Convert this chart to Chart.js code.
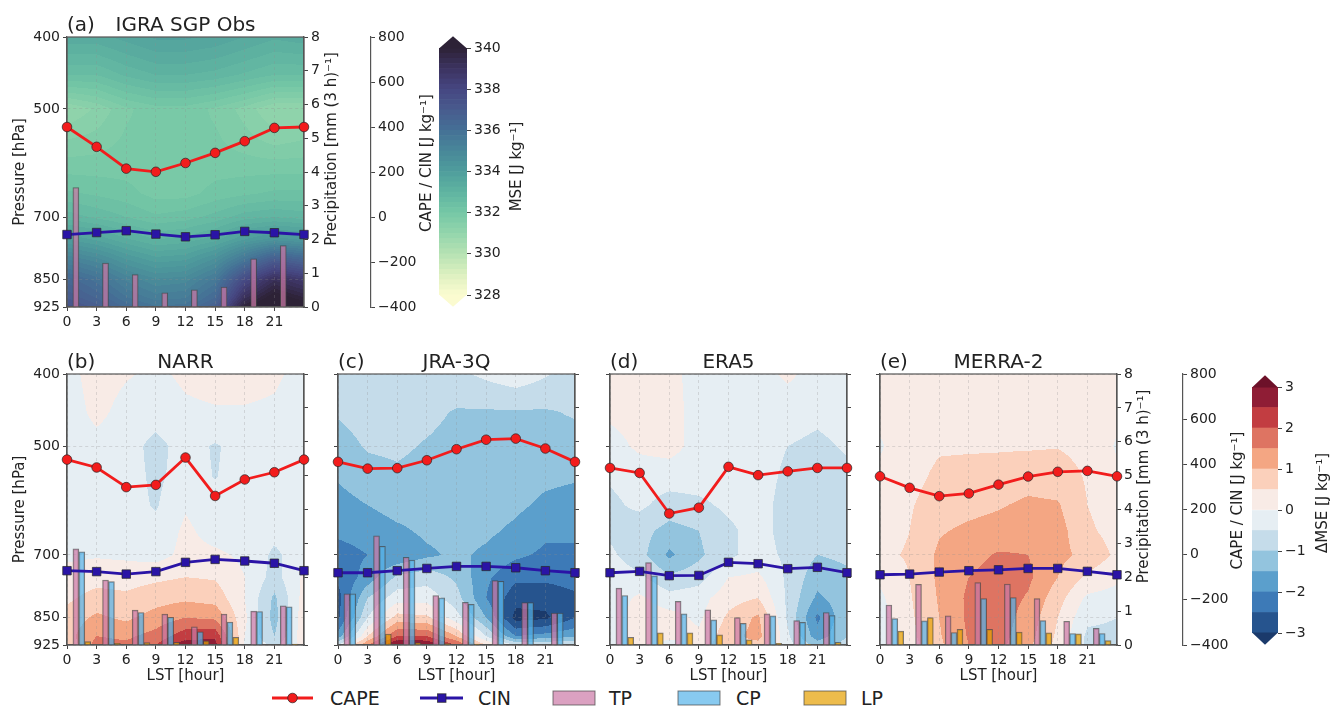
<!DOCTYPE html>
<html>
<head>
<meta charset="utf-8">
<title>Diurnal CAPE / CIN / MSE</title>
<script src="https://cdn.jsdelivr.net/npm/chart.js@4.4.1/dist/chart.umd.min.js"></script>
<style>
  body { margin: 0; background: #fff; }
  #figure { position: relative; width: 1333px; height: 709px; overflow: hidden; background: #fff; }
  #figure canvas { position: absolute; }
  #legend { position: absolute; left: 0; top: 684px; }
</style>
</head>
<body>
<div id="figure">
  <svg id="legend" width="1333" height="25"></svg>
</div>
<script>
// ---- Axes / categories ----
const hours = [0, 3, 6, 9, 12, 15, 18, 21, 24];
const precipHours = [1.5, 4.5, 7.5, 10.5, 13.5, 16.5, 19.5, 22.5];
const pressureLevels = [400, 450, 500, 550, 600, 650, 700, 750, 800, 850, 900, 925];
const hourTicks = [0, 3, 6, 9, 12, 15, 18, 21];
const pressureTicks = [400, 500, 700, 850, 925];
const precipTicks = [0, 1, 2, 3, 4, 5, 6, 7, 8];
const capeTicks = [-400, -200, 0, 200, 400, 600, 800];
const mseTicks = [328, 330, 332, 334, 336, 338, 340];
const dmseTicks = [-3, -2, -1, 0, 1, 2, 3];

// ---- (a) IGRA SGP Obs ----
const igraCape = [400, 312, 215, 201, 240, 285, 337, 396, 400];
const igraCin = [-78, -69, -61, -76, -88, -79, -64, -70, -78];
const igraTP = [3.54, 1.30, 0.96, 0.42, 0.51, 0.59, 1.43, 1.82];
const igraMse = [
  [333.4, 333.4, 333.6, 333.8, 333.8, 333.7, 333.5, 333.3, 333.4],
  [332.5, 332.5, 332.8, 333.0, 333.0, 332.9, 332.7, 332.5, 332.5],
  [331.0, 331.3, 331.7, 331.9, 331.9, 331.7, 331.4, 331.0, 331.0],
  [331.5, 331.6, 331.8, 331.8, 331.8, 331.8, 331.6, 331.4, 331.5],
  [331.9, 331.9, 331.9, 331.8, 331.8, 331.9, 331.9, 331.9, 331.9],
  [332.3, 332.2, 332.1, 331.9, 331.9, 332.1, 332.2, 332.3, 332.3],
  [332.9, 332.7, 332.5, 332.3, 332.4, 332.6, 332.9, 333.0, 332.9],
  [334.0, 333.7, 333.3, 333.0, 333.1, 333.4, 334.0, 334.4, 334.2],
  [335.3, 334.9, 334.3, 333.9, 334.0, 334.6, 335.8, 337.0, 336.5],
  [336.4, 335.9, 335.2, 334.8, 334.9, 335.6, 337.8, 339.2, 338.6],
  [337.0, 336.5, 335.8, 335.4, 335.5, 336.3, 339.2, 340.4, 339.8],
  [337.4, 336.9, 336.2, 335.8, 335.9, 336.8, 340.0, 341.0, 340.5]
];

// ---- (b) NARR ----
const narrCape = [421, 386, 299, 309, 430, 260, 333, 365, 421];
const narrCin = [-71, -75, -86, -75, -34, -21, -28, -38, -71];
const narrTP = [2.84, 1.92, 1.03, 0.91, 0.54, 0.91, 1.00, 1.16];
const narrCP = [2.75, 1.87, 0.96, 0.82, 0.39, 0.68, 0.99, 1.13];
const narrLP = [0.10, 0.05, 0.07, 0.08, 0.12, 0.23, 0.00, 0.03];
const narrDmse = [
  [-0.2, 0.25, 0.05, -0.1, 0.1, 0.2, 0.2, 0.1, -0.2],
  [-0.3, 0.15, -0.2, -0.3, -0.1, -0.05, -0.05, -0.1, -0.3],
  [-0.3, -0.2, -0.3, -0.65, -0.3, -0.55, -0.3, -0.3, -0.3],
  [-0.3, -0.3, -0.3, -0.6, -0.3, -0.52, -0.3, -0.3, -0.3],
  [-0.3, -0.3, -0.3, -0.55, -0.05, -0.3, -0.3, -0.3, -0.3],
  [-0.3, -0.3, -0.3, -0.35, 0.1, -0.2, -0.3, -0.35, -0.3],
  [-0.1, -0.05, -0.1, -0.2, 0.15, 0.1, -0.1, -0.6, -0.2],
  [0.2, 0.3, 0.3, 0.4, 0.5, 0.45, 0.0, -0.7, 0.1],
  [0.4, 0.7, 0.6, 0.8, 0.9, 0.8, 0.0, -1.1, 0.2],
  [0.7, 1.1, 0.9, 1.2, 1.5, 1.4, 0.1, -1.2, 0.3],
  [0.8, 1.5, 1.4, 1.7, 2.3, 2.4, 0.0, -1.0, 0.3],
  [0.6, 1.7, 1.6, 2.0, 2.8, 2.7, -0.1, -0.6, 0.2]
];

// ---- (c) JRA-3Q ----
const jraCape = [411, 381, 383, 418, 467, 509, 514, 470, 411];
const jraCin = [-80, -80, -71, -61, -52, -52, -58, -71, -80];
const jraTP = [1.51, 3.22, 2.59, 1.46, 1.26, 1.90, 1.25, 0.94];
const jraCP = [1.51, 2.91, 2.51, 1.39, 1.20, 1.88, 1.25, 0.94];
const jraLP = [0.00, 0.32, 0.07, 0.04, 0.03, 0.00, 0.00, 0.00];
const jraDmse = [
  [-0.7, -0.8, -0.8, -0.7, -0.6, -0.4, -0.2, -0.45, -0.7],
  [-0.95, -0.8, -0.8, -0.85, -1.05, -1.05, -1.05, -1.05, -0.95],
  [-1.2, -0.95, -0.9, -1.05, -1.2, -1.2, -1.2, -1.2, -1.2],
  [-1.45, -1.2, -1.1, -1.2, -1.3, -1.3, -1.3, -1.4, -1.45],
  [-1.7, -1.5, -1.3, -1.3, -1.3, -1.3, -1.4, -1.6, -1.7],
  [-1.9, -1.8, -1.6, -1.4, -1.3, -1.4, -1.6, -1.9, -1.9],
  [-2.2, -2.0, -1.9, -1.6, -1.4, -1.6, -1.9, -2.1, -2.1],
  [-2.4, -1.8, -0.9, -0.7, -1.1, -1.9, -2.4, -2.4, -2.3],
  [-2.7, -1.0, -0.2, -0.2, -0.8, -2.0, -2.8, -2.8, -2.6],
  [-2.6, -0.5, 0.7, 0.6, -0.3, -1.5, -3.2, -3.1, -2.5],
  [-1.8, 0.5, 2.0, 2.0, 1.0, -0.5, -2.0, -1.8, -1.6],
  [-0.5, 1.5, 3.2, 3.0, 2.0, 0.5, -0.5, -0.5, -0.5]
];

// ---- (d) ERA5 ----
const eraCape = [384, 362, 182, 208, 389, 352, 369, 384, 384];
const eraCin = [-80, -74, -93, -92, -34, -40, -62, -56, -80];
const eraTP = [1.68, 2.43, 1.29, 1.04, 0.81, 0.92, 0.72, 0.96];
const eraCP = [1.46, 2.04, 0.92, 0.74, 0.64, 0.86, 0.67, 0.87];
const eraLP = [0.23, 0.36, 0.36, 0.30, 0.15, 0.05, 0.02, 0.08];
const eraDmse = [
  [0.1, 0.2, 0.15, -0.2, -0.2, -0.2, 0.1, -0.2, -0.3],
  [0.1, 0.2, 0.2, -0.2, -0.3, -0.3, -0.3, -0.4, -0.3],
  [-0.2, 0.1, 0.2, -0.2, -0.3, -0.3, -0.5, -0.6, -0.45],
  [-0.45, -0.3, -0.3, -0.3, -0.3, -0.3, -0.6, -0.7, -0.6],
  [-0.6, -0.4, -0.7, -0.6, -0.4, -0.3, -0.7, -0.8, -0.7],
  [-0.6, -0.8, -1.2, -1.0, -0.6, -0.3, -0.7, -0.9, -0.8],
  [-0.4, -0.8, -1.6, -1.1, -0.6, -0.3, -0.6, -1.0, -0.9],
  [-0.2, -0.4, -0.9, -0.7, 0.0, 0.1, -0.6, -1.3, -1.1],
  [-0.3, 0.1, -0.3, -0.2, 0.3, 0.5, -0.6, -1.6, -1.2],
  [-0.3, 0.3, 0.2, -0.1, 0.6, 1.1, -0.6, -2.1, -1.1],
  [-0.3, 0.3, 0.2, 0.1, 0.8, 1.2, -0.4, -1.8, -1.0],
  [-0.3, 0.2, -0.3, 0.2, 0.9, 0.8, -0.3, -1.2, -0.8]
];

// ---- (e) MERRA-2 ----
const merraCape = [347, 296, 259, 271, 310, 346, 367, 371, 347];
const merraCin = [-89, -86, -77, -71, -67, -61, -61, -74, -89];
const merraTP = [1.18, 1.79, 0.86, 1.84, 1.80, 1.37, 0.70, 0.49];
const merraCP = [0.78, 0.71, 0.37, 1.37, 1.40, 0.72, 0.34, 0.34];
const merraLP = [0.41, 0.81, 0.46, 0.46, 0.38, 0.36, 0.33, 0.13];
const merraDmse = [
  [0.2, 0.3, 0.3, 0.3, 0.3, 0.3, 0.3, 0.3, 0.2],
  [0.1, 0.25, 0.3, 0.3, 0.3, 0.3, 0.3, 0.25, 0.1],
  [-0.05, 0.3, 0.45, 0.45, 0.45, 0.45, 0.48, 0.35, -0.05],
  [0.1, 0.35, 0.6, 0.65, 0.7, 0.8, 0.75, 0.45, 0.1],
  [0.2, 0.45, 0.75, 0.85, 0.95, 1.1, 1.05, 0.5, 0.2],
  [0.3, 0.5, 0.95, 1.1, 1.2, 1.3, 1.2, 0.6, 0.3],
  [0.4, 0.55, 1.1, 1.35, 1.55, 1.5, 1.15, 0.85, 0.4],
  [0.1, 0.5, 1.1, 1.5, 1.7, 1.6, 1.0, 0.4, 0.1],
  [-0.1, 0.45, 1.05, 1.6, 1.75, 1.45, 0.7, -0.1, -0.2],
  [-0.2, 0.4, 1.0, 1.6, 1.75, 1.3, 0.5, -0.4, -0.5],
  [-0.2, 0.35, 0.95, 1.55, 1.7, 1.2, 0.4, -0.6, -0.6],
  [-0.2, 0.3, 0.9, 1.5, 1.65, 1.1, 0.35, -0.6, -0.6]
];

// ---- Styles ----
const fontFamily = "'DejaVu Sans', sans-serif";
const textColor = '#222';
const spineColor = '#555';
const tickColor = '#444';
const gridColor = 'rgba(140,140,140,0.35)';
const capeColor = '#f21c1c';
const cinColor = '#2a14a6';
const markerEdge = 'rgba(40,40,40,0.8)';
const tpFill = 'rgba(204,121,167,0.7)';
const cpFill = 'rgba(86,180,233,0.7)';
const lpFill = 'rgba(230,159,0,0.7)';
const barEdge = 'rgba(70,70,70,0.7)';

// cmocean-like "deep" for MSE, RdBu_r bins for dMSE
const deepStops = [
  [0.000, '#fbfbd0'], [0.083, '#dcf0c0'], [0.167, '#b5e2b3'], [0.250, '#93d5ac'],
  [0.333, '#75c7a6'], [0.417, '#5fb4a1'], [0.500, '#4f9d9c'], [0.583, '#488799'],
  [0.667, '#457096'], [0.750, '#485b8e'], [0.833, '#464681'], [0.917, '#3c3360'],
  [1.000, '#2d2236']
];
const dmseEdges = [-3, -2.5, -2, -1.5, -1, -0.5, 0, 0.5, 1, 1.5, 2, 2.5, 3];
const dmseColors = ['#26548e', '#3d7ab7', '#5b9fcc', '#93c4de', '#c5dcea', '#e6eef3',
                    '#f8ebe6', '#fbd0bb', '#f4a683', '#de7462', '#c23d41', '#8f1d35'];
const dmseUnder = '#1b3a6b';
const dmseOver = '#6d1129';

Chart.defaults.font.family = fontFamily;
Chart.defaults.font.size = 14;
Chart.defaults.color = textColor;
Chart.defaults.animation = false;
Chart.defaults.plugins.legend.display = false;
Chart.defaults.plugins.tooltip.enabled = false;

// ---- Helpers ----
function hexToRgb(h) {
  return [parseInt(h.slice(1, 3), 16), parseInt(h.slice(3, 5), 16), parseInt(h.slice(5, 7), 16)];
}

function deepAt(t) {
  for (let i = 0; i < deepStops.length - 1; i++) {
    const [t0, c0] = deepStops[i];
    const [t1, c1] = deepStops[i + 1];
    if (t <= t1) {
      const f = (t - t0) / (t1 - t0);
      const a = hexToRgb(c0), b = hexToRgb(c1);
      return a.map((v, k) => Math.round(v + (b[k] - v) * f));
    }
  }
  return hexToRgb(deepStops[deepStops.length - 1][1]);
}

const mseEdges = [];
for (let v = 328; v <= 340.001; v += 0.25) mseEdges.push(+v.toFixed(2));
const mseColors = mseEdges.slice(0, -1).map((v, k) => deepAt((k + 0.5) / (mseEdges.length - 1)));
const mseUnder = deepAt(0);
const mseOver = deepAt(1);

function binner(edges, colors, under, over) {
  const rgb = colors.map(c => typeof c === 'string' ? hexToRgb(c) : c);
  const lo = typeof under === 'string' ? hexToRgb(under) : under;
  const hi = typeof over === 'string' ? hexToRgb(over) : over;
  return v => {
    if (v < edges[0]) return lo;
    if (v >= edges[edges.length - 1]) return hi;
    let k = 0;
    while (v >= edges[k + 1]) k++;
    return rgb[k];
  };
}
const mseColorOf = binner(mseEdges, mseColors, mseUnder, mseOver);
const dmseColorOf = binner(dmseEdges, dmseColors, dmseUnder, dmseOver);

function sampleField(grid, h, p) {
  let i = Math.floor(h / 3);
  i = Math.max(0, Math.min(hours.length - 2, i));
  const tx = Math.max(0, Math.min(1, (h - hours[i]) / (hours[i + 1] - hours[i])));
  let j = 0;
  while (j < pressureLevels.length - 2 && p > pressureLevels[j + 1]) j++;
  const ty = Math.max(0, Math.min(1, (p - pressureLevels[j]) / (pressureLevels[j + 1] - pressureLevels[j])));
  const a = grid[j][i], b = grid[j][i + 1], c = grid[j + 1][i], d = grid[j + 1][i + 1];
  return a * (1 - tx) * (1 - ty) + b * tx * (1 - ty) + c * (1 - tx) * ty + d * tx * ty;
}

const minus = v => String(v).replace('-', '\u2212');

function makeCanvas([x, y, w, h]) {
  const c = document.createElement('canvas');
  c.width = w;
  c.height = h;
  c.style.left = x + 'px';
  c.style.top = y + 'px';
  c.style.width = w + 'px';
  c.style.height = h + 'px';
  document.getElementById('figure').appendChild(c);
  return c;
}

// ---- Plugins ----
function fieldPlugin(grid, colorOf) {
  return {
    id: 'field',
    beforeDraw(chart) {
      const {ctx, chartArea: a} = chart;
      const xs = chart.scales.x, ys = chart.scales.y;
      const x0 = Math.round(a.left), y0 = Math.round(a.top);
      const w = Math.round(a.right) - x0, h = Math.round(a.bottom) - y0;
      const img = ctx.createImageData(w, h);
      for (let j = 0; j < h; j++) {
        const p = ys.getValueForPixel(y0 + j + 0.5);
        for (let i = 0; i < w; i++) {
          const hr = xs.getValueForPixel(x0 + i + 0.5);
          const c = colorOf(sampleField(grid, hr, p));
          const k = (j * w + i) * 4;
          img.data[k] = c[0];
          img.data[k + 1] = c[1];
          img.data[k + 2] = c[2];
          img.data[k + 3] = 255;
        }
      }
      ctx.putImageData(img, x0, y0);
    }
  };
}

const framePlugin = {
  id: 'frame',
  beforeDatasetsDraw(chart) {
    const {ctx, chartArea: a} = chart;
    ctx.save();
    ctx.strokeStyle = spineColor;
    ctx.lineWidth = 1.2;
    ctx.strokeRect(a.left, a.top, a.right - a.left, a.bottom - a.top);
    ctx.restore();
  }
};

function titlePlugin(tag, name) {
  return {
    id: 'panelTitle',
    afterDraw(chart) {
      const {ctx, chartArea: a} = chart;
      ctx.save();
      ctx.font = '20px ' + fontFamily;
      ctx.fillStyle = textColor;
      ctx.textBaseline = 'alphabetic';
      ctx.textAlign = 'left';
      ctx.fillText(tag, a.left, a.top - 6.5);
      ctx.textAlign = 'center';
      ctx.fillText(name, (a.left + a.right) / 2, a.top - 6.5);
      ctx.restore();
    }
  };
}

// rotated (bottom-to-top) labels for right-hand axes
function sideTitlePlugin(items) {
  return {
    id: 'sideTitles',
    afterDraw(chart) {
      const {ctx, chartArea: a} = chart;
      ctx.save();
      ctx.font = '15px ' + fontFamily;
      ctx.fillStyle = textColor;
      ctx.textAlign = 'center';
      ctx.textBaseline = 'middle';
      items.forEach(it => {
        ctx.save();
        ctx.translate(it.x, (a.top + a.bottom) / 2 + it.dy);
        ctx.rotate(-Math.PI / 2);
        ctx.fillText(it.text, 0, 0);
        ctx.restore();
      });
      ctx.restore();
    }
  };
}

function tipPlugin(under, over) {
  return {
    id: 'extendTips',
    afterDatasetsDraw(chart) {
      const {ctx, chartArea: a} = chart;
      const mid = (a.left + a.right) / 2;
      const tip = 11.7;
      ctx.save();
      ctx.fillStyle = over;
      ctx.beginPath();
      ctx.moveTo(a.left, a.top + 0.5);
      ctx.lineTo(mid, a.top - tip);
      ctx.lineTo(a.right, a.top + 0.5);
      ctx.closePath();
      ctx.fill();
      ctx.fillStyle = under;
      ctx.beginPath();
      ctx.moveTo(a.left, a.bottom - 0.5);
      ctx.lineTo(mid, a.bottom + tip);
      ctx.lineTo(a.right, a.bottom - 0.5);
      ctx.closePath();
      ctx.fill();
      ctx.restore();
    }
  };
}

// ---- Scales ----
const tickGrid = {color: gridColor, lineWidth: 0.8, tickLength: 4, tickColor: tickColor, tickWidth: 1, offset: false};

function hourScale(showLabels, showTitle, height) {
  return {
    type: 'linear', min: 0, max: 24, offset: false,
    afterBuildTicks: s => { s.ticks = hourTicks.map(v => ({value: v})); },
    afterFit: s => { s.height = height; },
    ticks: {display: showLabels, autoSkip: false, maxRotation: 0, padding: 3},
    grid: tickGrid,
    border: {color: spineColor, width: 1.2, dash: [3, 3]},
    title: {display: showTitle, text: 'LST [hour]', font: {size: 15}, padding: {top: 0, bottom: 24}}
  };
}

function pressureScale(showLabels, showTitle, width) {
  return {
    type: 'logarithmic', position: 'left', reverse: true, min: 400, max: 925, offset: false,
    afterBuildTicks: s => { s.ticks = pressureTicks.map(v => ({value: v})); },
    afterFit: s => { s.width = width; },
    ticks: {display: showLabels, autoSkip: false, padding: 3, callback: v => String(v)},
    grid: tickGrid,
    border: {color: spineColor, width: 1.2, dash: [3, 3]},
    title: {display: showTitle, text: 'Pressure [hPa]', font: {size: 15}, padding: {top: 11, bottom: 0}}
  };
}

function precipScale(showLabels, width) {
  return {
    type: 'linear', position: 'right', weight: 0, min: 0, max: 8, offset: false,
    afterBuildTicks: s => { s.ticks = precipTicks.map(v => ({value: v})); },
    afterFit: s => { s.width = width; },
    ticks: {display: showLabels, padding: 3},
    grid: {drawOnChartArea: false, tickLength: 4, tickColor: tickColor},
    border: {color: spineColor, width: 1.2}
  };
}

function capeScale(show, width) {
  return {
    type: 'linear', position: 'right', weight: 1, display: show, min: -400, max: 800, offset: false,
    afterBuildTicks: s => { s.ticks = capeTicks.map(v => ({value: v})); },
    afterFit: s => { s.width = width; },
    ticks: {padding: 3, callback: v => minus(v)},
    grid: {drawOnChartArea: false, tickLength: 4, tickColor: tickColor},
    border: {color: spineColor, width: 1.2}
  };
}

// ---- Datasets ----
function lineSet(label, values, color, pointStyle, radius) {
  return {
    type: 'line', label, order: 0, yAxisID: 'yC', clip: false,
    data: hours.map((h, i) => ({x: h, y: values[i]})),
    borderColor: color, borderWidth: 2.8, tension: 0,
    pointStyle, pointRadius: radius, pointBackgroundColor: color,
    pointBorderColor: markerEdge, pointBorderWidth: 0.9
  };
}

function barSet(label, values, fill, shift) {
  return {
    type: 'bar', label, order: 1, yAxisID: 'yP', grouped: false,
    data: precipHours.map((h, i) => ({x: h + shift, y: values[i]})),
    backgroundColor: fill, borderColor: barEdge, borderWidth: 1,
    barPercentage: 1, categoryPercentage: 1, maxBarThickness: 6
  };
}

// ---- Panels ----
function drawPanel(p) {
  const [cx, cy, cw, ch] = p.box;
  const [L, T, R, B] = p.area;
  const canvas = makeCanvas(p.box);
  const datasets = [
    lineSet('CAPE', p.cape, capeColor, 'circle', 4.8),
    lineSet('CIN', p.cin, cinColor, 'rect', 6),
    barSet('TP', p.tp, tpFill, -0.6)
  ];
  if (p.cp) datasets.push(barSet('CP', p.cp, cpFill, 0));
  if (p.lp) datasets.push(barSet('LP', p.lp, lpFill, 0.6));

  const precipWidth = p.capeAxisX ? p.capeAxisX - R : cx + cw - R;
  const titles = [];
  if (p.precipTitleX) titles.push({text: 'Precipitation [mm (3 h)\u207B\u00B9]', x: p.precipTitleX - cx, dy: -23});
  if (p.capeTitleX) titles.push({text: 'CAPE / CIN [J kg\u207B\u00B9]', x: p.capeTitleX - cx, dy: -9});

  new Chart(canvas, {
    type: 'line',
    data: {datasets},
    options: {
      responsive: false,
      layout: {padding: {top: T - cy, left: 0, right: 0, bottom: 0}},
      scales: {
        x: hourScale(true, p.xTitle, cy + ch - B),
        y: pressureScale(p.yLabels, p.yLabels, L - cx),
        yP: precipScale(p.precipLabels, precipWidth),
        yC: capeScale(!!p.capeAxisX, p.capeAxisX ? cx + cw - p.capeAxisX : 0)
      }
    },
    plugins: [fieldPlugin(p.field, p.colorOf), framePlugin, titlePlugin(p.tag, p.name), sideTitlePlugin(titles)]
  });
}

function drawColorbar(cb) {
  const [cx, cy, cw, ch] = cb.box;
  const [L, T, R, B] = cb.area;
  const canvas = makeCanvas(cb.box);
  const toCss = c => typeof c === 'string' ? c : 'rgb(' + c.join(',') + ')';
  const datasets = cb.colors.map((c, k) => ({
    type: 'bar', data: [[cb.edges[k], cb.edges[k + 1]]],
    backgroundColor: toCss(c), borderWidth: 0, grouped: false,
    barPercentage: 1, categoryPercentage: 1
  }));
  new Chart(canvas, {
    type: 'bar',
    data: {labels: [''], datasets},
    options: {
      responsive: false,
      layout: {padding: {top: T - cy, bottom: cy + ch - B, left: L - cx, right: 0}},
      scales: {
        x: {display: false},
        y: {
          position: 'right', min: cb.edges[0], max: cb.edges[cb.edges.length - 1],
          afterBuildTicks: s => { s.ticks = cb.ticks.map(v => ({value: v})); },
          afterFit: s => { s.width = cx + cw - R; },
          ticks: {padding: 3, callback: v => minus(v)},
          grid: {drawOnChartArea: false, tickLength: 4, tickColor: tickColor},
          border: {display: false}
        }
      }
    },
    plugins: [tipPlugin(toCss(cb.under), toCss(cb.over)), sideTitlePlugin([{text: cb.title, x: cb.titleX - cx, dy: cb.dy}])]
  });
}

// ---- Legend ----
function drawLegend() {
  const svg = document.getElementById('legend');
  const ns = 'http://www.w3.org/2000/svg';
  const add = (tag, attrs, text) => {
    const el = document.createElementNS(ns, tag);
    Object.entries(attrs).forEach(([k, v]) => el.setAttribute(k, v));
    if (text) el.textContent = text;
    svg.appendChild(el);
  };
  const cy = 14;
  const label = (x, t) => add('text', {x, y: cy + 7, 'font-family': 'DejaVu Sans', 'font-size': 19, fill: textColor}, t);
  // CAPE
  add('line', {x1: 272, y1: cy, x2: 313, y2: cy, stroke: capeColor, 'stroke-width': 2.8});
  add('circle', {cx: 292.5, cy, r: 4.8, fill: capeColor, stroke: markerEdge, 'stroke-width': 0.9});
  label(330, 'CAPE');
  // CIN
  add('line', {x1: 420, y1: cy, x2: 463, y2: cy, stroke: cinColor, 'stroke-width': 2.8});
  add('rect', {x: 437.5, y: cy - 4.2, width: 8.5, height: 8.5, fill: cinColor, stroke: markerEdge, 'stroke-width': 0.9});
  label(478, 'CIN');
  // bars
  [[553, tpFill, 'TP', 609], [678, cpFill, 'CP', 736], [804, lpFill, 'LP', 861]].forEach(([x, f, t, tx]) => {
    add('rect', {x, y: cy - 7, width: 42, height: 14, fill: f, stroke: barEdge, 'stroke-width': 1});
    label(tx, t);
  });
}

// ---- Build figure ----
drawPanel({tag: '(a)', name: 'IGRA SGP Obs', box: [0, 0, 440, 335], area: [67, 37, 304, 307],
  field: igraMse, colorOf: mseColorOf, cape: igraCape, cin: igraCin, tp: igraTP,
  yLabels: true, xTitle: false, precipLabels: true, capeAxisX: 371, precipTitleX: 332, capeTitleX: 427});
drawPanel({tag: '(b)', name: 'NARR', box: [0, 335, 320, 374], area: [67, 374, 304, 645],
  field: narrDmse, colorOf: dmseColorOf, cape: narrCape, cin: narrCin, tp: narrTP, cp: narrCP, lp: narrLP,
  yLabels: true, xTitle: true, precipLabels: false});
drawPanel({tag: '(c)', name: 'JRA-3Q', box: [320, 335, 270, 374], area: [338, 374, 575, 645],
  field: jraDmse, colorOf: dmseColorOf, cape: jraCape, cin: jraCin, tp: jraTP, cp: jraCP, lp: jraLP,
  yLabels: false, xTitle: true, precipLabels: false});
drawPanel({tag: '(d)', name: 'ERA5', box: [592, 335, 270, 374], area: [610, 374, 847, 645],
  field: eraDmse, colorOf: dmseColorOf, cape: eraCape, cin: eraCin, tp: eraTP, cp: eraCP, lp: eraLP,
  yLabels: false, xTitle: true, precipLabels: false});
drawPanel({tag: '(e)', name: 'MERRA-2', box: [862, 335, 388, 374], area: [880, 374, 1117, 645],
  field: merraDmse, colorOf: dmseColorOf, cape: merraCape, cin: merraCin, tp: merraTP, cp: merraCP, lp: merraLP,
  yLabels: false, xTitle: true, precipLabels: true, capeAxisX: 1183, precipTitleX: 1144, capeTitleX: 1238});

drawColorbar({box: [428, 0, 112, 335], area: [439, 48, 467, 295], edges: mseEdges, colors: mseColors,
  under: mseUnder, over: mseOver, ticks: mseTicks, title: 'MSE [J kg\u207B\u00B9]', titleX: 517, dy: -5});
drawColorbar({box: [1240, 335, 93, 374], area: [1252, 387, 1278, 633], edges: dmseEdges, colors: dmseColors,
  under: dmseUnder, over: dmseOver, ticks: dmseTicks, title: '\u0394MSE [J kg\u207B\u00B9]', titleX: 1323, dy: -7});

drawLegend();
</script>
</body>
</html>
